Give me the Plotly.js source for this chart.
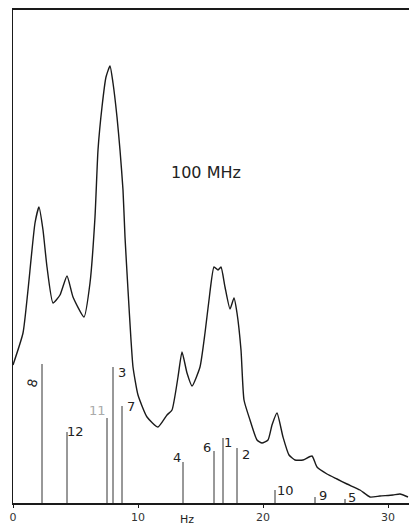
<!DOCTYPE html>
<html>
<head>
<meta charset="utf-8">
<script src="https://cdn.plot.ly/plotly-3.0.1.min.js"></script>
<style>
html,body{margin:0;padding:0;background:#fff;}
#chart{width:409px;height:526px;}
</style>
</head>
<body>
<div id="chart"></div>
<script>
// Spectrum trace (Hz vs. relative intensity)
const curveHz = [0, 0.8, 1.2, 1.76, 2.08, 2.4, 2.72, 3.2, 3.76, 4.32, 4.8, 5.68, 6.16, 6.56, 6.8, 7.12, 7.44, 7.76, 8.0, 8.32, 8.56, 8.8, 8.96, 9.2, 9.44, 9.6, 10.0, 10.72, 11.6, 12.32, 12.72, 13.2, 13.52, 13.92, 14.32, 14.96, 15.36, 15.68, 16.08, 16.4, 16.64, 16.96, 17.36, 17.68, 17.92, 18.24, 18.48, 18.96, 19.52, 19.92, 20.4, 20.72, 21.12, 21.6, 22.08, 22.56, 23.2, 23.92, 24.32, 25.12, 25.92, 26.72, 27.76, 28.56, 29.36, 30.4, 30.96, 31.6];
const curveInt = [138, 170, 213, 280, 296, 273, 236, 200, 208, 227, 206, 186, 220, 286, 353, 396, 426, 437, 420, 386, 353, 313, 266, 213, 163, 136, 108, 86, 76, 88, 93, 126, 151, 130, 117, 136, 170, 203, 236, 233, 236, 216, 194, 205, 190, 153, 103, 83, 63, 60, 63, 78, 90, 66, 48, 43, 43, 47, 36, 29, 24, 19, 13, 6, 7, 8, 9, 6];

// Calculated line positions and intensities
const stickLabels = ['8', '12', '11', '3', '7', '4', '6', '1', '2', '10', '9', '5'];
const stickHz = [2.32, 4.32, 7.52, 8.0, 8.72, 13.6, 16.08, 16.8, 17.92, 20.96, 24.16, 26.56];
const stickInt = [139, 71, 85, 136, 97, 41, 52, 65, 55, 13, 6, 4];

const tickVals = [0, 10, 20, 30];
const tickText = ['0', '10', '20', '30'];
const fieldLabel = '100 MHz';
const unitLabel = 'Hz';

// label placement (pixel offsets from each stick top)
const labelShift = [[-10, -19], [8, 1], [-10, 8], [9, -5], [9, 0], [-6, 5], [-7, 4], [5, -4], [9, -6], [10, 0], [8, 2], [7, 2]];

const sx = [], sy = [];
stickHz.forEach((h, i) => { sx.push(h, h, null); sy.push(0, stickInt[i], null); });

const ink = '#1a1a1a';
const traces = [
  {x: sx, y: sy, type: 'scatter', mode: 'lines', line: {color: '#333', width: 1}, hoverinfo: 'skip'},
  {x: curveHz, y: curveInt, type: 'scatter', mode: 'lines', line: {color: ink, width: 1.4, shape: 'spline', smoothing: 0.5}, hoverinfo: 'skip'}
];

const annotations = stickLabels.map((t, i) => ({
  x: stickHz[i], y: stickInt[i], xref: 'x', yref: 'y', text: t, showarrow: false,
  xanchor: 'center', yanchor: 'middle', xshift: labelShift[i][0], yshift: labelShift[i][1],
  textangle: i === 0 ? -75 : 0,
  font: {family: 'DejaVu Sans', size: 13, color: t === '11' ? '#aaa' : '#222'}
}));
annotations.push({x: 15.4, y: 331, xref: 'x', yref: 'y', text: fieldLabel, showarrow: false,
  font: {family: 'DejaVu Sans', size: 16, color: '#222'}});
annotations.push({x: 13.9, y: -0.017, xref: 'x', yref: 'paper', text: unitLabel, showarrow: false,
  yanchor: 'top', font: {family: 'DejaVu Sans', size: 11, color: '#222'}});

const layout = {
  width: 409, height: 526,
  margin: {l: 13, r: 0, t: 10, b: 23},
  paper_bgcolor: '#fff', plot_bgcolor: '#fff',
  showlegend: false,
  xaxis: {range: [0, 31.68], showgrid: false, zeroline: false, showline: true, mirror: true,
    linecolor: ink, linewidth: 1.6, ticks: 'outside', ticklen: 3, tickcolor: ink,
    tickvals: tickVals, ticktext: tickText, tickfont: {family: 'DejaVu Sans', size: 11, color: '#333'}},
  yaxis: {range: [0, 493], showgrid: false, zeroline: false, showline: true, linecolor: ink, linewidth: 1,
    showticklabels: false, ticks: ''},
  annotations: annotations
};

Plotly.newPlot('chart', traces, layout, {staticPlot: true, displayModeBar: false});
</script>
</body>
</html>
